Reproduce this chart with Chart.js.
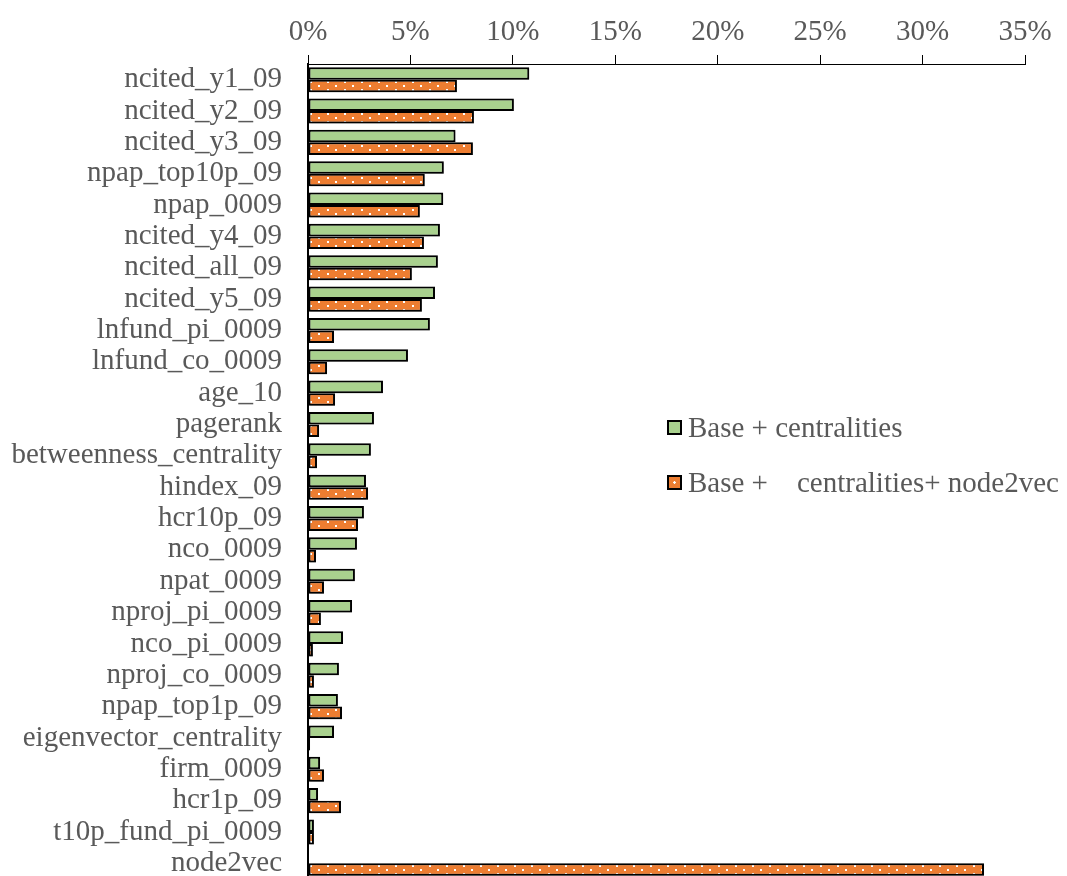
<!DOCTYPE html>
<html>
<head>
<meta charset="utf-8">
<script src="https://cdn.jsdelivr.net/npm/chart.js@4.4.1/dist/chart.umd.min.js"></script>
<style>
  html, body { margin: 0; padding: 0; background: #fff; overflow: hidden; }
  #wrap { position: relative; width: 1067px; height: 880px; }
  #legend { position: absolute; left: 667px; top: 400px; font-family: "Liberation Serif", "Times New Roman", serif; font-size: 29px; color: #595959; }
  .item { display: flex; align-items: center; height: 55px; white-space: pre; }
  .box { width: 11px; height: 11px; border: 2px solid #000; margin-right: 6px; }
</style>
</head>
<body>
<div id="wrap">
  <canvas id="c" width="1067" height="880"></canvas>
  <div id="legend"></div>
</div>
<script>
const categories = ["ncited_y1_09","ncited_y2_09","ncited_y3_09","npap_top10p_09","npap_0009","ncited_y4_09","ncited_all_09","ncited_y5_09","lnfund_pi_0009","lnfund_co_0009","age_10","pagerank","betweenness_centrality","hindex_09","hcr10p_09","nco_0009","npat_0009","nproj_pi_0009","nco_pi_0009","nproj_co_0009","npap_top1p_09","eigenvector_centrality","firm_0009","hcr1p_09","t10p_fund_pi_0009","node2vec"];
const baseCentralities = [10.8,10.05,7.2,6.63,6.6,6.44,6.34,6.2,5.95,4.88,3.66,3.22,3.07,2.83,2.73,2.39,2.29,2.15,1.71,1.51,1.46,1.27,0.59,0.49,0.29,0];
const baseCentralitiesNode2vec = [7.27,8.1,8.05,5.7,5.46,5.66,5.07,5.56,1.27,0.93,1.32,0.54,0.44,2.93,2.44,0.39,0.78,0.63,0.24,0.29,1.66,0.1,0.78,1.61,0.29,33.0];
const seriesLabels = ["Base + centralities", "Base +    centralities+ node2vec"];
const xTicks = [0,5,10,15,20,25,30,35];

const FONT = "'Liberation Serif', 'Times New Roman', serif";
const GREEN = "#A9D18E";
const ORANGE = "#ED7D31";

function makePattern() {
  const t = document.createElement("canvas");
  t.width = 17; t.height = 8;
  const g = t.getContext("2d");
  g.fillStyle = ORANGE; g.fillRect(0,0,17,8);
  g.fillStyle = "#ffffff";
  g.fillRect(4,1,2,2);
  g.fillRect(12,5,2,2);
  return g.createPattern(t, "repeat");
}
const pattern = makePattern();

const shadowPlugin = {
  id: "shadow",
  beforeDatasetsDraw(chart) {
    const ctx = chart.ctx;
    ctx.save();
    ctx.shadowColor = "rgba(0,0,0,0.3)";
    ctx.shadowBlur = 2;
    ctx.shadowOffsetX = 1;
    ctx.shadowOffsetY = 1;
  },
  afterDatasetsDraw(chart) { chart.ctx.restore(); }
};

const chart = new Chart(document.getElementById("c"), {
  type: "bar",
  data: {
    labels: categories,
    datasets: [
      { label: seriesLabels[0], data: baseCentralities, backgroundColor: GREEN, borderColor: "#000", borderWidth: 2, borderSkipped: false, categoryPercentage: 0.8, barPercentage: 1.0 },
      { label: seriesLabels[1], data: baseCentralitiesNode2vec, backgroundColor: pattern, borderColor: "#000", borderWidth: 2, borderSkipped: false, categoryPercentage: 0.8, barPercentage: 1.0 }
    ]
  },
  options: {
    indexAxis: "y",
    responsive: false,
    animation: false,
    layout: { padding: { left: 0, right: 42, top: 0, bottom: 1 } },
    plugins: { legend: { display: false }, tooltip: { enabled: false } },
    scales: {
      x: {
        position: "top",
        min: 0, max: 35,
        afterBuildTicks(s) { s.ticks = xTicks.map(v => ({ value: v })); },
        afterFit(s) { s.height = 64; },
        ticks: { color: "#595959", font: { family: FONT, size: 29 }, padding: 5, callback: v => v + "%" },
        grid: { drawOnChartArea: false, drawTicks: true, tickLength: 9, color: "#000", lineWidth: 1 },
        border: { display: true, color: "#000", width: 1 }
      },
      y: {
        afterFit(s) { s.width = 308; s.paddingTop = 0; s.paddingBottom = 0; },
        ticks: { color: "#595959", font: { family: FONT, size: 29 }, padding: 26, autoSkip: false },
        grid: { display: false, drawTicks: false },
        border: { display: true, color: "#000", width: 2 }
      }
    }
  },
  plugins: [shadowPlugin]
});

const legend = document.getElementById("legend");
chart.data.datasets.forEach((ds, i) => {
  const item = document.createElement("div");
  item.className = "item";
  const box = document.createElement("span");
  box.className = "box";
  box.style.background = i === 0 ? GREEN : ORANGE;
  if (i === 1) box.style.backgroundImage = "radial-gradient(circle at 50% 50%, #fff 1px, transparent 1.5px)";
  const txt = document.createElement("span");
  txt.textContent = ds.label;
  item.appendChild(box); item.appendChild(txt);
  legend.appendChild(item);
});
</script>
</body>
</html>
